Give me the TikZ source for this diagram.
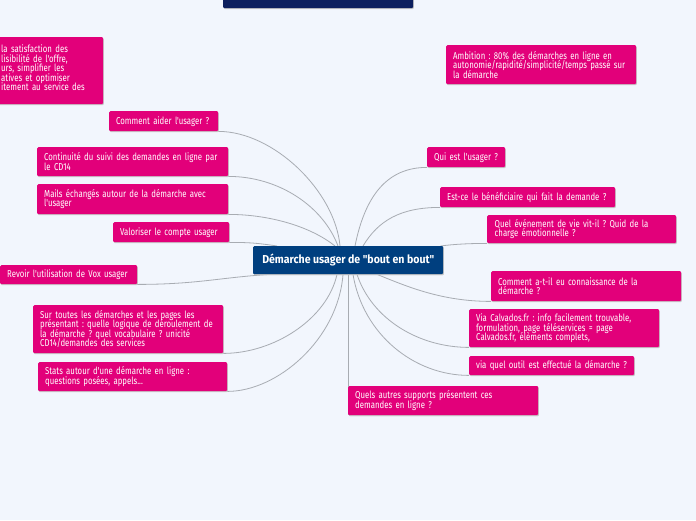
\documentclass[tikz,border=0pt]{standalone}
\usepackage{fontspec}
\setmainfont{Fira Sans}
\newfontfamily\tfont{Fira Sans}[FakeStretch=0.78]
\newfontfamily\cfont{Fira Sans}[FakeStretch=0.92]
\usetikzlibrary{shadows}
\frenchspacing
\newcommand\myboxfont{\tfont\frenchspacing\fontsize{10}{9.5}\selectfont\lineskiplimit=-6pt\lineskip=0pt\relax}
\definecolor{bgc}{HTML}{F2F6FD}
\definecolor{mag}{HTML}{E2007A}
\definecolor{ctrblue}{HTML}{003F7F}
\definecolor{navy}{HTML}{0C1F5E}
\definecolor{linec}{HTML}{A8ACB2}
\tikzset{
  boxshadow/.style={drop shadow={shadow xshift=0.6pt, shadow yshift=-1pt, fill=black!22, opacity=1}},
  topic/.style={fill=mag, text=white, rounded corners=1.2pt, anchor=north west, align=left,
    inner xsep=7pt, inner ysep=0pt, boxshadow, font=\myboxfont},
  central/.style={fill=ctrblue, text=white, rounded corners=1.2pt, anchor=north west, align=center,
    inner xsep=0pt, inner ysep=0pt, boxshadow, font=\cfont\bfseries\fontsize{11.5}{12}\selectfont},
  conn/.style={draw=linec, line width=0.8pt}
}
\begin{document}
\begin{tikzpicture}[x=1pt,y=-1pt]
\useasboundingbox (0,0) rectangle (696,520);
\fill[bgc] (0,0) rectangle (696,520);

% nodes (positions = top-left corners)
\node[central, minimum width=190pt, minimum height=28pt] (ctr) at (253,246) {Démarche usager de "bout en bout"};

\node[topic, text width=95pt, minimum height=20pt] (cai) at (109,111) {Comment aider l'usager ?};
\node[topic, text width=177pt, minimum height=29pt] (cont) at (37,147) {Continuité du suivi des demandes en ligne par\\le CD14};
\node[topic, text width=177pt, minimum height=30pt] (mails) at (37,184) {Mails échangés autour de la démarche avec\\l'usager};
\node[topic, text width=102pt, minimum height=20pt] (valo) at (113,222) {Valoriser le compte usager};
\node[topic, text width=123pt, minimum height=19pt] (revoir) at (0,265) {Revoir l'utilisation de Vox usager};
\node[topic, text width=176pt, minimum height=48pt] (sur) at (33,305) {Sur toutes les démarches et les pages les\\présentant : quelle logique de déroulement de\\la démarche ? quel vocabulaire ? unicité\\CD14/demandes des services};
\node[topic, text width=175pt, minimum height=29pt] (stats) at (38,362) {Stats autour d'une démarche en ligne :\\questions posées, appels...};
\node[topic, text width=176pt, minimum height=29pt] (qa) at (348,386) {Quels autres supports présentent ces\\demandes en ligne ?};

\node[topic, text width=64pt, minimum height=20pt] (qui) at (427,147) {Qui est l'usager ?};
\node[topic, text width=161pt, minimum height=20pt] (est) at (440,187) {Est-ce le bénéficiaire qui fait la demande ?};
\node[topic, text width=174pt, minimum height=28pt, inner xsep=7.5pt] (quel) at (487,215) {Quel événement de vie vit-il ? Quid de la\\charge émotionnelle ?};
\node[topic, text width=176pt, minimum height=30pt] (cat) at (491,271) {Comment a-t-il eu connaissance de la\\démarche ?};
\node[topic, text width=176pt, minimum height=38pt] (via) at (469,309) {Via Calvados.fr : info facilement trouvable,\\formulation, page téléservices = page\\Calvados.fr, élèments complets,};
\node[topic, text width=151pt, minimum height=19pt] (vqo) at (469,356) {via quel outil est effectué la démarche ?};

\node[topic, text width=176pt, minimum height=39pt] (amb) at (446,45) {Ambition : 80\% des démarches en ligne en\\autonomie/rapidité/simplicité/temps passé sur\\la démarche};

% connectors
\draw[conn] ([xshift=87pt]ctr.north west) .. controls +(-5,-55) and +(55,0) .. (cai.south east);
\draw[conn] ([xshift=85pt]ctr.north west) .. controls +(-15,-40) and +(50,0) .. (cont.south east);
\draw[conn] ([xshift=82pt]ctr.north west) .. controls +(-25,-20) and +(40,0) .. (mails.south east);
\draw[conn] ([xshift=24pt]ctr.north west) .. controls +(-20,-3) and +(20,0) .. (valo.south east);
\draw[conn] ([xshift=17pt]ctr.south west) .. controls +(-50,3) and +(60,0) .. (revoir.south east);
\draw[conn] ([xshift=84pt]ctr.south west) .. controls +(-10,45) and +(50,0) .. (sur.south east);
\draw[conn] ([xshift=90pt]ctr.south west) .. controls +(-5,65) and +(50,0) .. (stats.south east);
\draw[conn] ([xshift=95pt]ctr.south west) -- (qa.south west);
\draw[conn] ([xshift=102pt]ctr.north west) .. controls +(10,-50) and +(-40,0) .. (qui.south west);
\draw[conn] ([xshift=110pt]ctr.north west) .. controls +(15,-25) and +(-40,0) .. (est.south west);
\draw[conn] ([xshift=-3pt]ctr.north east) .. controls +(15,-2) and +(-15,0) .. (quel.south west);
\draw[conn] ([xshift=124pt]ctr.south west) .. controls +(30,12) and +(-50,0) .. (cat.south west);
\draw[conn] ([xshift=104pt]ctr.south west) .. controls +(15,45) and +(-50,0) .. (via.south west);
\draw[conn] ([xshift=100pt]ctr.south west) .. controls +(10,60) and +(-55,0) .. (vqo.south west);

% redraw boxes over connector ends
\node[central, minimum width=190pt, minimum height=28pt] at (253,246) {Démarche usager de "bout en bout"};
\node[topic, text width=176pt, minimum height=29pt] at (348,386) {Quels autres supports présentent ces\\demandes en ligne ?};

\begin{scope}
\clip (0,0) rectangle (696,520);
% header (cut at top)
\node[fill=navy, boxshadow, anchor=north west, minimum width=190pt, minimum height=18pt, inner sep=0pt, rounded corners=1.2pt] (hdr) at (223,-10) {};
% top-left floating topic (cut at left)
\node[topic, text width=95pt, minimum height=67pt] (tl) at (-6,37)
  {la satisfaction des\\lisibilité de l'offre,\\urs, simplifier les\\atives et optimiser\\itement au service des\\[-7pt]\strut};
\end{scope}
\end{tikzpicture}
\end{document}
